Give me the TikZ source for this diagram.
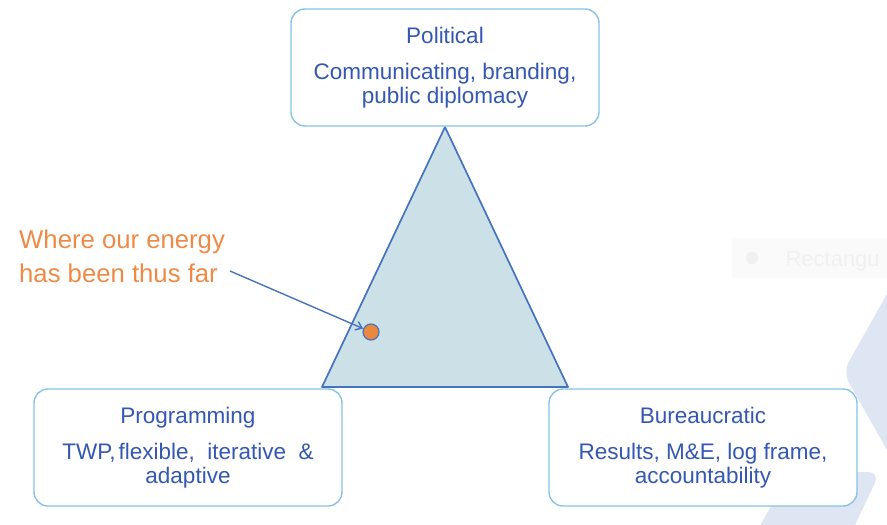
\documentclass[tikz,border=0pt]{standalone}
\usepackage{fontspec}
\setmainfont{Liberation Sans}
\usetikzlibrary{arrows.meta}
\definecolor{testo}{RGB}{52,88,178}
\definecolor{bordo}{RGB}{135,196,227}
\definecolor{riempitri}{RGB}{204,224,232}
\definecolor{bordotri}{RGB}{70,115,190}
\definecolor{arancio}{RGB}{236,135,62}
\definecolor{arancione}{RGB}{238,138,70}
\definecolor{sfondo}{RGB}{221,230,242}
\tikzset{
  riquadro/.style={draw=bordo, line width=1.4pt, rounded corners=14pt, fill=white,
    minimum width=308pt, minimum height=117pt, align=center, text=testo,
    font=\fontsize{22.5}{23.5}\selectfont},
  freccia/.style={draw=bordotri, line width=1.4pt, -{Straight Barb[length=6pt,width=9pt]}}
}
\begin{document}
\begin{tikzpicture}[x=1pt,y=-1pt]
    \useasboundingbox (0,0) rectangle (887,525);
    \clip (0,0) rectangle (887,525);

    %%%%%%%%%% Sfondo %%%%%%%%%%
    \fill[sfondo, rounded corners=12pt] (905,262) -- (843,372) -- (905,482) -- cycle;
    \fill[sfondo, rounded corners=12pt] (790,472) -- (880,472) -- (848,540) -- (752,540) -- cycle;
    \fill[black!2] (732,238) rectangle (887,278);
    \node (icona) [circle, fill=black!6, minimum size=12pt, inner sep=0pt] at (752,258) {};
    \node (suggerimento) [anchor=base west, text=black!6, font=\fontsize{22}{22}\selectfont] at (782,266) {Rectangu};

    %%%%%%%%%% Triangolo %%%%%%%%%%
    \draw[bordotri, fill=riempitri, line width=1.7pt, line join=round] (445,127) -- (322,387) -- (568,387) -- cycle;

    %%%%%%%%%% Nodi %%%%%%%%%%
    \node[riquadro] (politico) at (445,67.5) {Political\\[12.5pt]Communicating, branding,\\public diplomacy};
    \node[riquadro] (programmazione) at (188,447.5) {Programming\\[12.5pt]TWP,\hspace{3pt}flexible,\ \ iterative \ \&\\adaptive};
    \node[riquadro] (burocratico) at (703,447.5) {Bureaucratic\\[12.5pt]Results, M\&E, log frame,\\accountability};

    \node (punto) [circle, fill=arancio, draw=bordotri, line width=1.2pt, minimum size=16pt, inner sep=0pt] at (371,332) {};
    \node (energia) [anchor=base west, align=left, inner sep=0pt, text=arancione,
      font=\fontsize{25.7}{34}\selectfont] at (19,282) {Where our energy\\has been thus far};

    %%%%%%%%% Frecce %%%%%%%%%
    \coordinate (origine) at (230,271);
    \draw[freccia] (origine) -- (punto);
\end{tikzpicture}
\end{document}
